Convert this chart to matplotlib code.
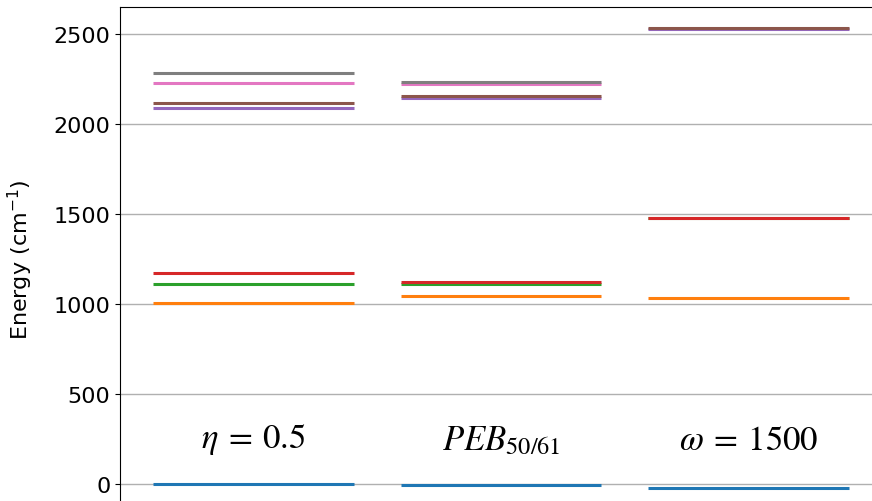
import numpy as np
import matplotlib
matplotlib.use('Agg')
import matplotlib.pyplot as plt

SIZE = 16
plt.rc('font', size=SIZE)
plt.rc('axes', labelsize=SIZE)
plt.rc('ytick', labelsize=SIZE)

# energy levels (cm^-1) for each model, lowest first
eta_levels = [0, 1005, 1113, 1172, 2087, 2115, 2226, 2282]
peb_levels = [-3, 1043, 1111, 1122, 2143, 2154, 2222, 2235]
omega_levels = [-24, 1033, 1477, 1480, 2528, 2531]

models = [eta_levels, peb_levels, omega_levels]
model_labels = [r'$\eta \:=\: 0.5$', r'$PEB_{50/61}$', r'$\omega \:=\: 1500$']
colors = plt.rcParams['axes.prop_cycle'].by_key()['color']

fig = plt.figure(figsize=(8.72, 5.02), dpi=100)
ax = fig.add_axes([0.1376, -0.0199, 0.894, 1.0039])

half = 0.405
for i, levels in enumerate(models):
    for j, e in enumerate(levels):
        ax.hlines(e, i - half, i + half, color=colors[j], lw=2.2, zorder=3)
    ax.text(i, 250, model_labels[i], ha='center', va='center',
            fontsize=25, math_fontfamily='stix')

ax.set_xlim(-0.54, 2.61)
ax.set_ylim(-150, 2650)
ax.set_yticks([0, 500, 1000, 1500, 2000, 2500])
ax.set_xticks([])
ax.yaxis.grid(True, color='#b0b0b0', lw=1)
ax.set_axisbelow(True)
ax.set_ylabel(r'Energy (cm$^{-1}$)', labelpad=13)

fig.savefig('out.png', dpi=100)
